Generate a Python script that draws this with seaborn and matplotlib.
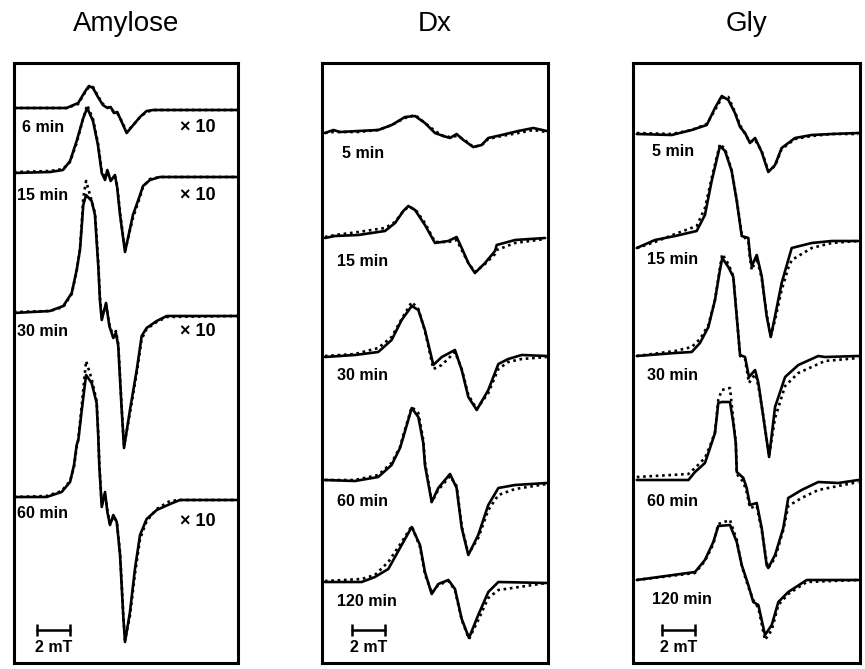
import seaborn as sns
import matplotlib.pyplot as plt

# ESR spectra
# x = field offset from sweep centre (mT), y = signal (a.u.)
# *_obs = experimental (solid), *_sim = simulated (dotted)

# --- Amylose ---
amy6_x = [-6.8, -3.6, -2.9, -2.5, -2.25, -2.0, -1.7, -1.4, -1.13, -0.93, -0.73, -0.53, -0.26, 0.04, 0.44, 0.85, 1.25, 1.66, 6.72]
amy6_obs = [0, 0, 5, 16, 22, 20, 11, 3, 0, 1, -5, -4, -14, -25, -17, -9, -3, -2, -2]
amy6_sim = [0, 0, 4, 15, 21, 21, 12, 4, 1, 0, -4, -5, -13, -24, -17, -9, -4, -2, -2]

amy15_x = [-6.79, -4.61, -3.82, -3.39, -2.99, -2.59, -2.35, -2.0, -1.70, -1.47, -1.27, -1.13, -0.93, -0.67, -0.53, -0.36, -0.06, 0.42, 0.85, 1.03, 1.45, 2.06, 6.73]
amy15_obs = [0, 1, 3, 12, 32, 55, 65, 52, 28, 0, -7, 3, -8, -2, -15, -42, -79, -42, -22, -13, -7, -4, -4]
amy15_sim = [1, 2, 4, 11, 30, 55, 68, 54, 30, 2, -5, 1, -7, -3, -13, -40, -78, -45, -24, -14, -6, -4, -4]

amy30_x = [-6.79, -4.61, -3.8, -3.29, -2.99, -2.79, -2.69, -2.59, -2.42, -2.08, -1.88, -1.78, -1.68, -1.58, -1.47, -1.21, -1.01, -0.77, -0.61, -0.47, -0.26, -0.12, 0.24, 0.65, 0.95, 1.25, 1.86, 2.47, 6.71]
amy30_obs = [0, 2, 7, 20, 43, 63, 85, 108, 118, 112, 98, 72, 47, 13, -7, 10, -13, -25, -20, -33, -97, -135, -97, -57, -23, -15, -8, -3, -3]
amy30_sim = [1, 2, 6, 19, 42, 64, 88, 115, 132, 112, 100, 76, 50, 16, -4, 8, -11, -24, -18, -31, -95, -133, -100, -60, -26, -16, -9, -4, -3]

amy60_x = [-6.79, -4.81, -3.9, -3.39, -3.15, -2.99, -2.89, -2.68, -2.42, -2.08, -1.78, -1.68, -1.62, -1.47, -1.27, -1.13, -0.97, -0.77, -0.56, -0.36, -0.16, -0.06, 0.24, 0.55, 0.85, 1.25, 1.86, 2.67, 3.27, 6.71]
amy60_obs = [0, 0, 5, 15, 32, 52, 57, 87, 122, 114, 94, 60, 32, -10, 5, -15, -28, -18, -25, -58, -121, -145, -115, -71, -38, -22, -13, -7, -3, -3]
amy60_sim = [0, 1, 6, 16, 30, 50, 58, 92, 136, 118, 96, 64, 34, -8, 3, -13, -27, -20, -24, -56, -119, -143, -119, -76, -42, -24, -12, -4, -3, -3]

# --- Dx ---
dx5_x = [-6.67, -6.16, -5.76, -4.65, -3.44, -2.62, -1.82, -1.21, -0.61, 0, 0.5, 0.91, 1.31, 1.72, 2.32, 2.83, 3.23, 4.04, 5.05, 5.96, 6.77]
dx5_obs = [0, 3, 1, 2, 3, 8, 16, 17, 10, 0, -3, -5, -1, -7, -14, -12, -5, -2, 2, 5, 2]
dx5_sim = [0, 1, 1, 1, 3, 8, 15, 18, 10, 2, -3, -4, -3, -6, -14, -12, -6, -3, 0, 3, 1]

dx15_x = [-6.67, -6.06, -4.65, -3.03, -2.42, -1.92, -1.62, -1.21, -0.61, 0, 0.81, 1.31, 1.62, 2.02, 2.42, 3.03, 3.64, 3.74, 4.85, 6.67]
dx15_obs = [0, 2, 3, 7, 15, 27, 32, 28, 13, -5, -3, 1, -10, -25, -35, -25, -13, -7, -2, 0]
dx15_sim = [1, 3, 6, 10, 16, 27, 31, 29, 15, -4, -4, -2, -12, -25, -34, -26, -16, -12, -5, -1]

dx30_x = [-6.67, -4.85, -3.44, -2.63, -2.02, -1.41, -1.01, -0.61, -0.10, 0.41, 1.21, 1.62, 2.02, 2.53, 3.23, 3.84, 4.44, 5.25, 6.77]
dx30_obs = [0, 2, 5, 17, 37, 51, 47, 27, -8, 0, 7, -13, -40, -53, -33, -7, -2, 2, 1]
dx30_sim = [1, 3, 9, 20, 38, 55, 48, 26, -12, -8, 5, -12, -38, -52, -36, -12, -5, -2, 0]

dx60_x = [-6.67, -4.85, -3.44, -2.63, -2.12, -1.92, -1.41, -1.01, -0.71, -0.61, -0.2, 0.2, 0.91, 1.31, 1.62, 2.02, 2.62, 3.23, 3.84, 4.85, 6.77]
dx60_obs = [0, -1, 3, 15, 32, 43, 72, 63, 37, 15, -22, -8, 6, -8, -48, -75, -55, -25, -8, -5, -3]
dx60_sim = [0, 0, 5, 17, 33, 45, 73, 67, 40, 18, -22, -10, 4, -6, -46, -74, -58, -30, -15, -9, -4]

dx120_x = [-6.67, -4.44, -3.64, -2.83, -2.02, -1.41, -0.91, -0.61, -0.2, 0.2, 0.81, 1.21, 1.62, 2.06, 2.62, 3.23, 3.84, 6.77]
dx120_obs = [0, 0, 5, 13, 37, 55, 37, 10, -12, -2, 2, -7, -37, -56, -33, -10, 0, -1]
dx120_sim = [1, 3, 7, 20, 40, 56, 35, 8, -11, -3, 1, -8, -38, -57, -38, -16, -8, -1]

# --- Gly ---
gly5_x = [-6.65, -4.53, -3.32, -2.41, -1.91, -1.50, -1.10, -0.70, -0.39, -0.09, 0.21, 0.52, 0.92, 1.32, 1.73, 2.13, 2.94, 3.95, 5.16, 6.78]
gly5_obs = [0, -1, 4, 9, 26, 38, 34, 21, 7, 1, -9, -4, -18, -38, -31, -14, -4, -1, 0, 1]
gly5_sim = [1, 0, 4, 10, 24, 36, 37, 22, 9, 0, -8, -6, -17, -37, -32, -15, -5, -2, 0, 0]

gly15_x = [-6.65, -5.55, -4.33, -3.02, -2.52, -2.11, -1.61, -1.30, -0.90, -0.59, -0.29, 0.11, 0.21, 0.32, 0.62, 0.92, 1.22, 1.47, 1.73, 2.13, 2.53, 2.74, 3.95, 5.16, 6.78]
gly15_obs = [0, 8, 12, 17, 33, 67, 102, 97, 77, 47, 12, 10, -7, -18, -7, -28, -68, -89, -68, -35, -12, 0, 5, 7, 7]
gly15_sim = [0, 6, 14, 22, 40, 70, 104, 99, 78, 48, 14, 6, -10, -22, -10, -30, -66, -88, -72, -42, -20, -12, 0, 5, 7]

gly30_x = [-6.65, -4.33, -3.32, -2.82, -2.31, -1.91, -1.61, -1.47, -1.10, -0.80, -0.59, -0.39, -0.09, 0.15, 0.52, 0.72, 1.02, 1.37, 1.73, 2.34, 3.14, 4.35, 4.75, 6.78]
gly30_obs = [0, 3, 4, 13, 29, 56, 86, 98, 89, 79, 39, 1, -1, -21, -14, -27, -61, -101, -51, -21, -9, 0, -1, 0]
gly30_sim = [0, 5, 9, 17, 31, 56, 88, 102, 92, 80, 40, 0, -3, -27, -18, -30, -60, -100, -62, -30, -17, -8, -5, -2]

gly60_x = [-6.65, -3.52, -3.12, -2.52, -2.21, -1.91, -1.71, -1.50, -1.00, -0.80, -0.65, -0.59, -0.19, 0.01, 0.21, 0.62, 0.92, 1.22, 1.32, 1.73, 2.23, 2.53, 3.34, 4.35, 5.56, 6.78]
gly60_obs = [0, 0, 8, 17, 32, 47, 77, 78, 78, 57, 37, 8, 2, -8, -25, -23, -48, -85, -88, -75, -48, -18, -10, -2, -3, 0]
gly60_sim = [3, 6, 12, 22, 34, 48, 80, 90, 92, 60, 38, 6, -2, -12, -28, -26, -50, -82, -88, -78, -50, -26, -18, -10, -6, -2]

gly120_x = [-6.65, -3.12, -2.52, -2.01, -1.71, -1.00, -0.59, -0.29, 0.11, 0.41, 0.72, 1.12, 1.53, 1.93, 2.53, 3.65, 6.78]
gly120_obs = [0, 8, 20, 38, 54, 55, 38, 15, -5, -22, -25, -55, -45, -22, -12, 0, 0]
gly120_sim = [0, 7, 19, 36, 56, 60, 40, 14, -7, -20, -28, -60, -50, -25, -14, -2, 0]

titles = ["Amylose", "Dx", "Gly"]
amy_times = ["6 min", "15 min", "30 min", "60 min"]
dx_times = ["5 min", "15 min", "30 min", "60 min", "120 min"]
gly_times = ["5 min", "15 min", "30 min", "60 min", "120 min"]

sns.set_theme(style="white")
plt.rcParams['font.family'] = ['Liberation Sans', 'DejaVu Sans']
plt.rcParams['text.color'] = 'black'

W, H = 865, 669
fig = plt.figure(figsize=(W / 100, H / 100), dpi=100)

# panel layout in pixels
panels = [
    dict(title=titles[0], left=14, right=238,
         traces=[(amy6_x, amy6_obs, amy6_sim), (amy15_x, amy15_obs, amy15_sim),
                 (amy30_x, amy30_obs, amy30_sim), (amy60_x, amy60_obs, amy60_sim)],
         labels=amy_times, base=[555, 490, 350, 166],
         lab_y=[536, 468, 332, 149], lab_x=[-6.32, -6.59, -6.59, -6.63],
         gain=True, bar=-5.4),
    dict(title=titles[1], left=322, right=548,
         traces=[(dx5_x, dx5_obs, dx5_sim), (dx15_x, dx15_obs, dx15_sim),
                 (dx30_x, dx30_obs, dx30_sim), (dx60_x, dx60_obs, dx60_sim),
                 (dx120_x, dx120_obs, dx120_sim)],
         labels=dx_times, base=[530, 425, 306, 183, 81],
         lab_y=[509, 402, 287, 161, 62], lab_x=[-5.65, -5.96, -5.96, -5.96, -5.96],
         gain=False, bar=-5.05),
    dict(title=titles[2], left=633, right=860,
         traces=[(gly5_x, gly5_obs, gly5_sim), (gly15_x, gly15_obs, gly15_sim),
                 (gly30_x, gly30_obs, gly30_sim), (gly60_x, gly60_obs, gly60_sim),
                 (gly120_x, gly120_obs, gly120_sim)],
         labels=gly_times, base=[529, 415, 307, 183, 83],
         lab_y=[511, 404, 287, 161, 63], lab_x=[-5.75, -6.05, -6.05, -6.05, -5.75],
         gain=False, bar=-5.1),
]

top_px, bot_px = 63, 663
px_per_mT = 16.5

for p in panels:
    ax = fig.add_axes([p['left'] / W, 1 - bot_px / H,
                       (p['right'] - p['left']) / W, (bot_px - top_px) / H])
    half = (p['right'] - p['left']) / 2 / px_per_mT
    ax.set_xlim(-half, half)
    ax.set_ylim(0, bot_px - top_px)

    for (x, obs, sim), off in zip(p['traces'], p['base']):
        sns.lineplot(x=x, y=[v + off for v in sim], ax=ax, color='black',
                     lw=1.9, linestyle=(0, (1, 1.4)), estimator=None, sort=False)
        sns.lineplot(x=x, y=[v + off for v in obs], ax=ax, color='black',
                     lw=1.9, estimator=None, sort=False)

    for lab, lx, ly in zip(p['labels'], p['lab_x'], p['lab_y']):
        ax.text(lx, ly, lab, fontsize=11.5, fontweight='bold', va='center', ha='left')
        if p['gain']:
            gy = ly if lab != "60 min" else ly - 8
            ax.text(3.27, gy, "\u00d7 10", fontsize=13, fontweight='bold',
                    va='center', ha='left')

    # 2 mT scale bar
    b0 = p['bar']
    ax.plot([b0, b0 + 2], [33, 33], color='black', lw=1.8)
    ax.plot([b0, b0 + 2], [33, 33], ls='none', marker='|', ms=8, mew=1.8, color='black')
    ax.text(b0 + 1, 15.5, "2 mT", fontsize=11.5, fontweight='bold', ha='center', va='center')

    ax.set_xticks([])
    ax.set_yticks([])
    ax.set_xlabel('')
    ax.set_ylabel('')
    for s in ax.spines.values():
        s.set_visible(True)
        s.set_linewidth(2.2)
        s.set_color('black')

    fig.text((p['left'] + p['right']) / 2 / W, 1 - 31 / H, p['title'],
             fontsize=20, ha='center', va='baseline')

fig.savefig('out.png', dpi=100, facecolor='white')
